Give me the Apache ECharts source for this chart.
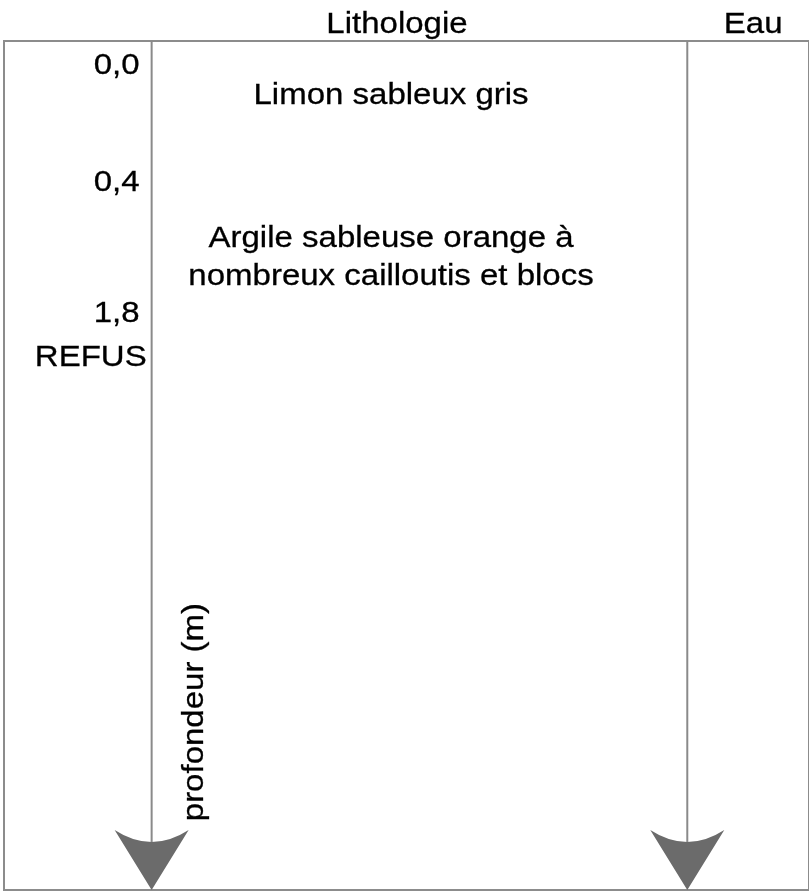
<!DOCTYPE html>
<html>
<head>
<meta charset="utf-8">
<script src="https://cdn.jsdelivr.net/npm/echarts@6/dist/echarts.min.js"></script>
<style>
  html, body { margin: 0; padding: 0; background: #ffffff; }
  #chart { width: 809px; height: 892px; }
</style>
</head>
<body>
<div id="chart"></div>
<script>
const columnTitles = ['Lithologie', 'Eau'];
const depthLabels = ['0,0', '0,4', '1,8'];
const depthRows = [0.64, 3.66, 7.08];               // position along the log (text rows)
const endLabel = 'REFUS';
const endRow = 8.2;
const layerTexts = ['Limon sableux gris', 'Argile sableuse orange à', 'nombreux cailloutis et blocs'];
const layerRows = [1.42, 5.12, 6.11];
const axisTitle = 'profondeur (m)';
const axisTitleRow = 17.39;
const logEndRow = 22;

// ---- Layout (percent of log width) ----
const X_DEPTH_LABEL = 16.85;
const X_END_LABEL = 17.72;
const X_LITHO_LEFT = 18.34;
const X_LITHO_TEXT = 48.08;
const X_LITHO_TITLE = 48.82;
const X_WATER_LEFT = 84.88;
const X_WATER_TITLE = 93.06;
const X_AXIS_TITLE = 23.67;
const TITLE_ROW = -0.42;

const FONT = '30px "Liberation Sans", Arial, sans-serif';
const STRETCH = 1.1;
const TEXT_COLOR = '#000000';
const LINE_COLOR = '#8a8a8a';

const textItems = [];
columnTitles.forEach((t, i) => textItems.push({ value: [i === 0 ? X_LITHO_TITLE : X_WATER_TITLE, TITLE_ROW], text: t, align: 'center', rot: 0 }));
depthLabels.forEach((t, i) => textItems.push({ value: [X_DEPTH_LABEL, depthRows[i]], text: t, align: 'right', rot: 0 }));
textItems.push({ value: [X_END_LABEL, endRow], text: endLabel, align: 'right', rot: 0 });
layerTexts.forEach((t, i) => textItems.push({ value: [X_LITHO_TEXT, layerRows[i]], text: t, align: 'center', rot: 0 }));
textItems.push({ value: [X_AXIS_TITLE, axisTitleRow], text: axisTitle, align: 'center', rot: Math.PI / 2 });

const chart = echarts.init(document.getElementById('chart'), null, { renderer: 'canvas' });
const ARROW = 'path://M0,0 Q37,24 74,0 L37,60 Z';

chart.setOption({
  animation: false,
  backgroundColor: '#ffffff',
  grid: { left: 4, right: -2, top: 41, bottom: 2, show: true, borderColor: '#8c8c8c', borderWidth: 2, backgroundColor: 'transparent' },
  xAxis: { type: 'value', min: 0, max: 100, show: false },
  yAxis: { type: 'value', min: 0, max: logEndRow, inverse: true, show: false },
  series: [
    {
      type: 'line', data: [[X_LITHO_LEFT, 0], [X_LITHO_LEFT, logEndRow - 1]], symbol: 'none',
      lineStyle: { color: LINE_COLOR, width: 2 }, silent: true
    },
    {
      type: 'line', data: [[X_WATER_LEFT, 0], [X_WATER_LEFT, logEndRow - 1]], symbol: 'none',
      lineStyle: { color: LINE_COLOR, width: 2 }, silent: true
    },
    {
      type: 'scatter', data: [[X_LITHO_LEFT, logEndRow], [X_WATER_LEFT, logEndRow]],
      symbol: ARROW, symbolSize: [74, 60], symbolOffset: [0, -30], symbolKeepAspect: false,
      itemStyle: { color: '#6b6b6b', opacity: 1 }, silent: true, z: 5
    },
    {
      type: 'custom', clip: false, silent: true, z: 10,
      data: textItems.map(d => ({ value: d.value })),
      renderItem: function (params, api) {
        const d = textItems[params.dataIndex];
        const p = api.coord([api.value(0), api.value(1)]);
        return {
          type: 'text', x: p[0], y: p[1], rotation: d.rot, scaleX: STRETCH,
          style: { text: d.text, font: FONT, fill: TEXT_COLOR, align: d.align, verticalAlign: 'middle',
                   stroke: TEXT_COLOR, lineWidth: 0.3 }
        };
      }
    }
  ]
});
</script>
</body>
</html>
